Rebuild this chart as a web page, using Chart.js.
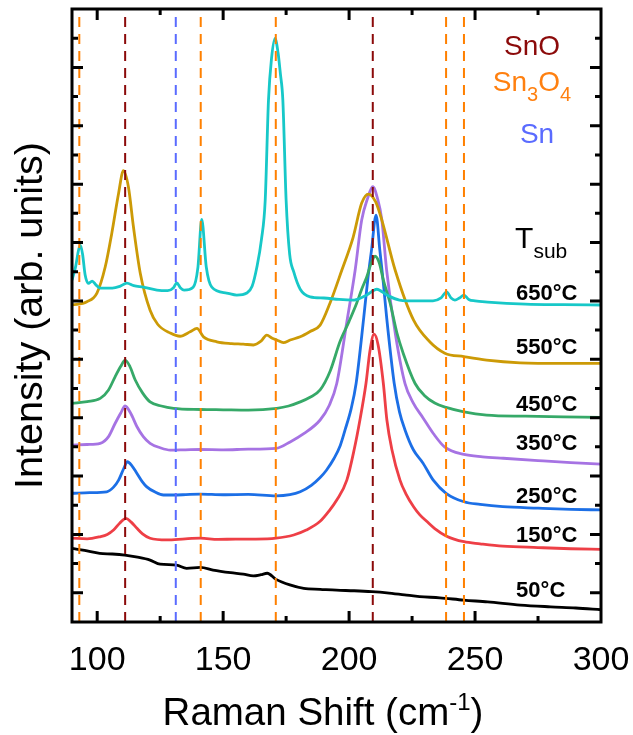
<!DOCTYPE html>
<html>
<head>
<meta charset="utf-8">
<script src="https://cdn.jsdelivr.net/npm/chart.js@4.4.1/dist/chart.umd.min.js"></script>
<style>
  html, body { margin: 0; padding: 0; background: #fff; overflow: hidden; }
  #wrap { width: 633px; height: 735px; }
</style>
</head>
<body>
<div id="wrap"><canvas id="myChart"></canvas></div>
<script>
// Raman shift (cm-1) / intensity (arb. units), one pair of arrays per substrate temperature
const shift50 = [90, 95, 101, 106, 111, 116, 121, 125, 131.5, 135.5, 141, 146, 153, 158, 162, 165, 167.5, 171, 176.5, 182, 188.5, 195, 202, 209, 215, 222, 228, 236, 245.5, 255, 268, 280, 290, 300];
const int50 = [2.52, 2.45, 2.35, 2.33, 2.29, 2.22, 2.12, 1.98, 1.95, 1.84, 1.87, 1.78, 1.69, 1.64, 1.58, 1.62, 1.67, 1.46, 1.27, 1.15, 1.12, 1.09, 1.07, 1.04, 1.00, 0.93, 0.87, 0.83, 0.75, 0.69, 0.58, 0.52, 0.48, 0.42];

const shift150 = [90, 96, 101, 104, 106.5, 109, 111.4, 113.5, 115.8, 118, 121, 127.7, 135, 141, 148, 155, 163, 171, 178, 183, 188.5, 192, 195.1, 199.1, 202, 204.3, 206.7, 208.3, 209.9, 211.5, 213.6, 215, 217, 220.2, 222.5, 225.6, 228, 230.8, 234, 238.5, 245.6, 252, 261, 275, 288, 300];
const int150 = [2.87, 2.85, 2.92, 3.0, 3.15, 3.39, 3.55, 3.42, 3.21, 3.02, 2.87, 2.81, 2.85, 2.87, 2.83, 2.84, 2.84, 2.87, 2.98, 3.15, 3.45, 3.8, 4.18, 4.86, 5.9, 6.92, 8.17, 9.3, 9.86, 9.5, 8.17, 6.92, 5.9, 4.86, 4.4, 3.95, 3.68, 3.45, 3.2, 2.95, 2.75, 2.68, 2.60, 2.55, 2.51, 2.49];

const shift250 = [90, 97, 103.8, 106.5, 108.5, 110.5, 112, 113.8, 115.8, 117.8, 119.7, 123, 126.3, 134, 141, 150, 160, 171, 176.5, 180.6, 185, 188.5, 191, 194, 196.5, 198.4, 200.8, 202.8, 205.8, 207.5, 208.9, 210.7, 212.2, 213.5, 214.9, 217.9, 220, 222.2, 225.5, 229.3, 233.5, 238.5, 245.6, 252, 261, 275, 288, 300];
const int250 = [4.41, 4.43, 4.46, 4.62, 4.86, 5.25, 5.49, 5.35, 5.09, 4.82, 4.63, 4.45, 4.35, 4.36, 4.38, 4.36, 4.37, 4.32, 4.36, 4.46, 4.68, 4.95, 5.2, 5.6, 6.05, 6.58, 7.3, 8.18, 10.42, 11.8, 12.74, 13.94, 12.74, 11.7, 10.44, 8.18, 7.2, 6.58, 5.9, 5.45, 4.85, 4.41, 4.12, 4.03, 3.95, 3.9, 3.86, 3.84];

const shift350 = [90, 96, 101.2, 104.5, 107.1, 109.3, 111.1, 113.3, 115.8, 118.3, 121, 125, 129, 135, 141, 150, 160, 171, 176.6, 182, 188.5, 192, 195.1, 199.1, 202.4, 205, 207.3, 209.4, 211.3, 213, 214.9, 218.5, 222.2, 225.5, 229.3, 233.5, 238, 245.6, 253, 261.2, 275, 288, 300];
const int350 = [6.06, 6.08, 6.12, 6.35, 6.80, 7.15, 7.40, 7.15, 6.69, 6.35, 6.12, 5.97, 5.89, 5.90, 5.91, 5.90, 5.92, 5.95, 6.17, 6.45, 6.92, 7.4, 8.17, 10.28, 12.05, 13.77, 14.5, 14.91, 14.5, 13.77, 12.05, 9.8, 8.17, 7.5, 7.0, 6.45, 5.99, 5.74, 5.66, 5.61, 5.53, 5.46, 5.41];

const shift450 = [90, 96, 101.2, 104.5, 107.1, 109.3, 111.1, 113, 115.1, 118, 121, 125.5, 130.3, 141, 150, 160, 171.3, 176, 180.6, 184.5, 188.5, 192.5, 196.4, 200, 203, 205, 207, 208.8, 210.3, 212, 213.6, 216.3, 219, 221.5, 226.2, 230, 234, 238.5, 245.6, 254.6, 270, 285, 300];
const int450 = [7.49, 7.55, 7.66, 7.95, 8.40, 8.75, 8.97, 8.75, 8.29, 7.85, 7.54, 7.40, 7.32, 7.28, 7.27, 7.26, 7.32, 7.40, 7.54, 7.70, 7.95, 8.6, 9.61, 10.3, 10.92, 11.4, 11.82, 12.3, 12.53, 12.3, 11.71, 10.92, 9.9, 9.2, 8.17, 7.75, 7.5, 7.35, 7.20, 7.09, 7.05, 7.03, 7.01];

const shift550 = [90, 95.9, 99.9, 103.2, 105.8, 108.5, 110.4, 112.4, 114.4, 117.1, 121, 124, 129, 132.9, 136.9, 139.6, 142.2, 147.5, 153.4, 158, 162, 165, 167.3, 169.5, 171.3, 173.9, 176.6, 180.6, 184.5, 188.5, 192.4, 197.1, 201.6, 205, 207.7, 210.5, 213, 218.3, 225.6, 232, 238, 245.6, 254.6, 267.9, 285, 300];
const int550 = [10.86, 10.97, 11.27, 12.17, 13.32, 14.69, 15.46, 14.90, 13.53, 11.95, 10.68, 10.2, 9.90, 9.79, 9.94, 10.06, 9.77, 9.60, 9.54, 9.52, 9.49, 9.62, 9.83, 9.72, 9.66, 9.57, 9.66, 9.77, 9.95, 10.17, 10.92, 12.05, 13.18, 14.35, 14.66, 14.4, 13.77, 12.05, 10.34, 9.6, 9.21, 9.09, 8.97, 8.88, 8.86, 8.86];

const shift650 = [90, 91.5, 92.5, 93.3, 94.2, 95.2, 96.5, 98, 99.5, 101.2, 106, 109, 111.8, 114.5, 118.3, 123.7, 128, 130.3, 131.6, 133, 134.5, 138.1, 140, 141.5, 143.3, 145.5, 151.4, 155.4, 159.4, 161.5, 163.4, 165.2, 166.7, 168, 169.2, 170.6, 171.8, 172.7, 173.7, 175, 176.4, 178, 180.6, 184.5, 190, 196, 202, 207, 211, 215, 220, 227, 233.3, 236.5, 238.7, 240.5, 242, 243.8, 245.6, 247.5, 250, 255, 270, 285, 300];
const int650 = [11.71, 12.2, 12.7, 12.91, 12.6, 11.9, 11.6, 11.68, 11.55, 11.44, 11.44, 11.5, 11.61, 11.52, 11.47, 11.37, 11.35, 11.45, 11.62, 11.45, 11.37, 11.47, 12.16, 13.79, 12.16, 11.47, 11.27, 11.20, 11.27, 11.5, 12.16, 13.1, 14.45, 17.88, 19.3, 19.99, 19.5, 18.8, 17.88, 14.45, 12.6, 12.0, 11.4, 11.14, 11.10, 11.05, 11.03, 11.20, 11.40, 11.2, 11.03, 11.0, 11.00, 11.1, 11.31, 11.1, 11.03, 11.1, 11.20, 11.05, 11.0, 10.96, 10.89, 10.87, 10.86];

// reference peak positions (cm-1)
const snoLines = [111.1, 209.4];
const sn3o4Lines = [92.9, 141.1, 170.9, 238.5, 245.6];
const snLines = [131.2];

const tempLabels = ['650°C', '550°C', '450°C', '350°C', '250°C', '150°C', '50°C'];
const xTicks = [100, 125, 150, 175, 200, 225, 250, 275, 300];
const yTicks = [0, 1, 2, 3, 4, 5, 6, 7, 8, 9, 10, 11, 12, 13, 14, 15, 16, 17, 18, 19, 20, 21];

const FONT = 'Arial, "Liberation Sans", sans-serif';

function pts(xs, ys) {
  return xs.map((v, i) => ({ x: v, y: ys[i] }));
}

function curve(xs, ys, color) {
  return {
    data: pts(xs, ys),
    borderColor: color,
    borderWidth: 2.8,
    pointRadius: 0,
    cubicInterpolationMode: 'monotone',
    fill: false,
    order: 1,
  };
}

function vline(v, color) {
  return {
    data: [{ x: v, y: 0 }, { x: v, y: 21 }],
    borderColor: color,
    borderWidth: 2,
    borderDash: [10, 7],
    pointRadius: 0,
    fill: false,
    order: 0,
  };
}

// draw text made of parts, some lowered as subscripts / raised as superscripts
function drawParts(ctx, parts, x, y, align) {
  let w = 0;
  parts.forEach(p => { ctx.font = p.font; w += ctx.measureText(p.text).width; });
  let cx = align === 'center' ? x - w / 2 : x;
  ctx.textAlign = 'left';
  ctx.textBaseline = 'alphabetic';
  parts.forEach(p => {
    ctx.font = p.font;
    ctx.fillStyle = p.color;
    ctx.fillText(p.text, cx, y + (p.dy || 0));
    cx += ctx.measureText(p.text).width;
  });
}

// frame with inward ticks on all four sides
const frameTicks = {
  id: 'frameTicks',
  afterDatasetsDraw(chart) {
    const { ctx, chartArea: a, scales: { x, y } } = chart;
    ctx.save();
    ctx.strokeStyle = '#000';
    ctx.lineWidth = 3;
    ctx.beginPath();
    x.ticks.forEach(t => {
      if (t.value <= 90 || t.value >= 300) return;
      const px = x.getPixelForValue(t.value);
      const len = t.value % 50 === 0 ? 11 : 6;
      ctx.moveTo(px, a.bottom); ctx.lineTo(px, a.bottom - len);
      ctx.moveTo(px, a.top); ctx.lineTo(px, a.top + len);
    });
    y.ticks.forEach(t => {
      if (t.value <= 0 || t.value >= 21) return;
      const py = y.getPixelForValue(t.value);
      const len = t.value % 2 === 1 ? 11 : 6;
      ctx.moveTo(a.left, py); ctx.lineTo(a.left + len, py);
      ctx.moveTo(a.right, py); ctx.lineTo(a.right - len, py);
    });
    ctx.stroke();
    ctx.strokeRect(a.left, a.top, a.right - a.left, a.bottom - a.top);
    ctx.restore();
  }
};

// phase legend, T_sub labels and x axis title
const labels = {
  id: 'labels',
  afterDraw(chart) {
    const { ctx, scales: { x, y } } = chart;
    ctx.save();
    const lx = x.getPixelForValue(272.6);
    drawParts(ctx, [{ text: 'SnO', font: '28px ' + FONT, color: '#8B0A0A' }], lx, y.getPixelForValue(19.42), 'center');
    drawParts(ctx, [
      { text: 'Sn', font: '28px ' + FONT, color: '#FF8010' },
      { text: '3', font: '20px ' + FONT, color: '#FF8010', dy: 10 },
      { text: 'O', font: '28px ' + FONT, color: '#FF8010' },
      { text: '4', font: '20px ' + FONT, color: '#FF8010', dy: 10 },
    ], lx, y.getPixelForValue(18.18), 'center');
    drawParts(ctx, [{ text: 'Sn', font: '28px ' + FONT, color: '#5A6BFF' }], x.getPixelForValue(274.6), y.getPixelForValue(16.40), 'center');
    drawParts(ctx, [
      { text: 'T', font: '30px ' + FONT, color: '#000' },
      { text: 'sub', font: '21px ' + FONT, color: '#000', dy: 10 },
    ], x.getPixelForValue(265.9), y.getPixelForValue(12.81), 'left');

    const tempY = [11.03, 9.18, 7.23, 5.89, 4.08, 2.74, 0.86];
    tempLabels.forEach((t, i) => {
      drawParts(ctx, [{ text: t, font: 'bold 22px ' + FONT, color: '#000' }], x.getPixelForValue(266.3), y.getPixelForValue(tempY[i]), 'left');
    });

    drawParts(ctx, [
      { text: 'Raman Shift (cm', font: '38.5px ' + FONT, color: '#000' },
      { text: '-1', font: '24px ' + FONT, color: '#000', dy: -15 },
      { text: ')', font: '38.5px ' + FONT, color: '#000' },
    ], 323, 725, 'center');
    ctx.restore();
  }
};

const ctxEl = document.getElementById('myChart');
const myChart = new Chart(ctxEl, {
  type: 'line',
  data: {
    datasets: [
      ...snoLines.map(v => vline(v, '#8B0A0A')),
      ...sn3o4Lines.map(v => vline(v, '#FF8000')),
      ...snLines.map(v => vline(v, '#5A6BFF')),
      curve(shift650, int650, '#17C8C8'),
      curve(shift550, int550, '#CC9A06'),
      curve(shift450, int450, '#36A968'),
      curve(shift350, int350, '#A673E3'),
      curve(shift250, int250, '#1C6FE6'),
      curve(shift150, int150, '#EE3F46'),
      curve(shift50, int50, '#000000'),
    ],
  },
  plugins: [frameTicks, labels],
  options: {
    responsive: true,
    maintainAspectRatio: false,
    animation: false,
    devicePixelRatio: 1,
    layout: { padding: { top: 9, right: 32, left: 0, bottom: 0 } },
    plugins: {
      legend: { display: false },
      tooltip: { enabled: false },
    },
    scales: {
      x: {
        type: 'linear',
        min: 90,
        max: 300,
        afterBuildTicks: s => { s.ticks = xTicks.map(v => ({ value: v })); },
        afterFit: s => { s.height = 113; s.paddingLeft = 0; s.paddingRight = 0; },
        grid: { display: false },
        border: { display: false },
        ticks: {
          autoSkip: false,
          maxRotation: 0,
          padding: 10,
          color: '#000',
          font: { family: FONT, size: 34 },
          callback: v => (v % 50 === 0 ? String(v) : ''),
        },
      },
      y: {
        type: 'linear',
        min: 0,
        max: 21,
        afterBuildTicks: s => { s.ticks = yTicks.map(v => ({ value: v })); },
        afterFit: s => { s.width = 72; s.paddingTop = 0; s.paddingBottom = 0; },
        grid: { display: false },
        border: { display: false },
        ticks: { display: false },
        title: {
          display: true,
          text: 'Intensity (arb. units)',
          color: '#000',
          font: { family: FONT, size: 39.5 },
          padding: { top: 7, bottom: 0 },
        },
      },
    },
  },
});
</script>
</body>
</html>
